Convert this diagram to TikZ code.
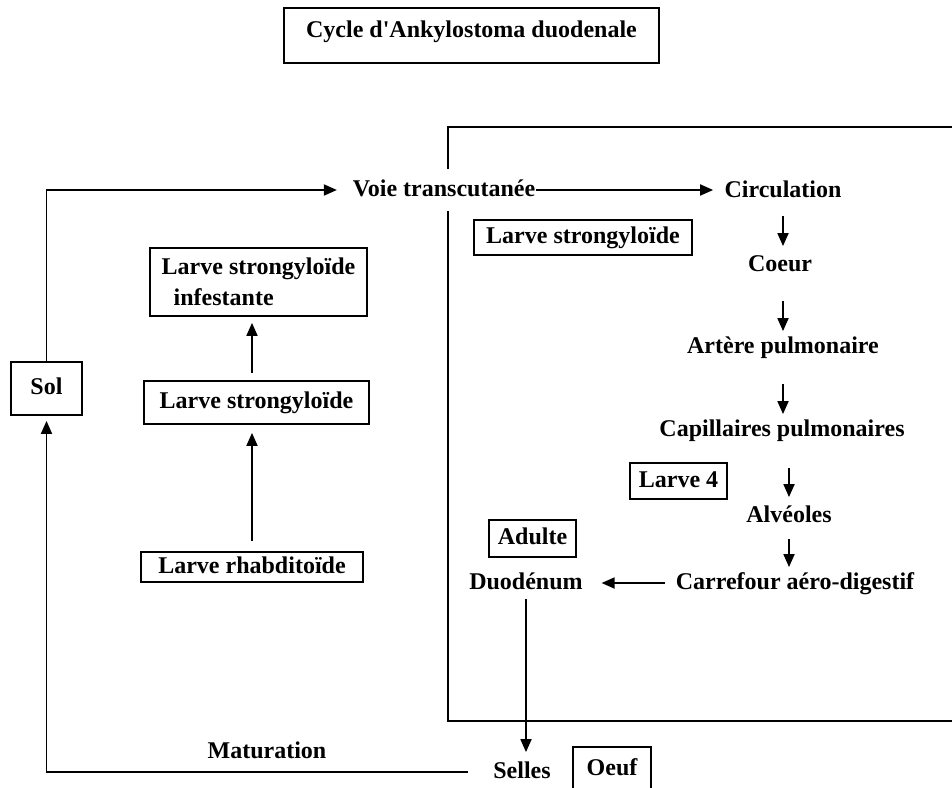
\documentclass[tikz,border=0pt]{standalone}
\usepackage{fontspec}
\setmainfont{Liberation Serif}
\usetikzlibrary{arrows.meta}
\begin{document}
\begin{tikzpicture}[x=0.5pt,y=-0.5pt, line width=0.9pt,
  every node/.style={font=\fontsize{12}{15.5}\selectfont\bfseries},
  lbl/.style={inner sep=2pt, text height=8.5pt, text depth=2.5pt},
  box/.style={draw, inner sep=0pt, text height=8.5pt, text depth=2.5pt},
  arr/.style={-{Triangle[length=6.5pt,width=5.5pt]}}]
\useasboundingbox (0,0) rectangle (952,787);
% large frame (right side beyond the picture)
\draw (965,127) -- (448,127) -- (448,721) -- (965,721);
% boxes
\node[draw, minimum width=187.5pt, minimum height=27.5pt, inner sep=3pt,
      text height=11.5pt, text depth=10pt] (title) at (471.5,35.5) {Cycle d\textquotesingle Ankylostoma duodenale};
\node[box, minimum width=35.5pt, minimum height=26.5pt] (sol) at (46.5,388.5) {Sol};
\node[draw, inner sep=0pt, minimum width=108.5pt, minimum height=34pt, align=left] (infest) at (258.5,282)
      {Larve strongyloïde\\\hspace*{6pt}infestante};
\node[box, minimum width=112.5pt, minimum height=21.5pt] (strongL) at (256.5,402.5) {Larve strongyloïde};
\node[box, minimum width=111pt, minimum height=15pt] (rhab) at (252,567) {Larve rhabditoïde};
\node[box, minimum width=109pt, minimum height=17.5pt] (strongR) at (583,237.5) {Larve strongyloïde};
\node[box, minimum width=48.5pt, minimum height=18pt] (l4) at (678.5,481) {Larve 4};
\node[box, minimum width=43.5pt, minimum height=18.5pt] (adulte) at (532.5,538.5) {Adulte};
\node[box, minimum width=39pt, minimum height=22.5pt] (oeuf) at (612,769.5) {Oeuf};
% labels
\node[lbl, fill=white, inner ysep=5pt] (voie) at (444,190) {Voie transcutanée};
\node[lbl] (circ) at (783,191) {Circulation};
\node[lbl] (coeur) at (780,265) {Coeur};
\node[lbl] (artere) at (783,347) {Artère pulmonaire};
\node[lbl] (capill) at (782,430) {Capillaires pulmonaires};
\node[lbl] (alv) at (789,516) {Alvéoles};
\node[lbl] (carr) at (795,583) {Carrefour aéro-digestif};
\node[lbl] (duo) at (526,583) {Duodénum};
\node[lbl] (selles) at (522,772) {Selles};
\node[lbl] (matur) at (267,752) {Maturation};
% connectors
\draw[arr] (sol.north) |- ([xshift=-5.5pt]voie.west);
\draw[arr, shorten <=-2pt, shorten >=3.25pt] (voie.east) -- (voie.east -| circ.west);
\draw[arr, shorten <=4.5pt, shorten >=1.5pt] (circ.south) -- (circ.south |- coeur.north);
\draw[arr, shorten <=10pt] (coeur.south -| artere.north) -- (artere.north);
\draw[arr, shorten <=10.5pt] (artere.south) -- (artere.south |- capill.north);
\draw[arr, shorten <=11pt, shorten >=1.5pt] (capill.south -| alv.north) -- (alv.north);
\draw[arr, shorten <=3.5pt] (alv.south) -- (alv.south |- carr.north);
\draw[arr, shorten <=3pt, shorten >=7pt] (carr.west) -- (carr.west -| duo.east);
\draw[arr, shorten >=2pt] (duo.south) -- (duo.south |- selles.north);
\draw[arr, shorten <=10pt, shorten >=2.5pt] (selles.west) -| (sol.south);
\draw[arr, shorten <=5pt, shorten >=4pt] (rhab.north) -- (rhab.north |- strongL.south);
\draw[arr, shorten <=3.5pt, shorten >=3pt] (strongL.north -| rhab.north) -- (infest.south -| rhab.north);
\end{tikzpicture}
\end{document}
